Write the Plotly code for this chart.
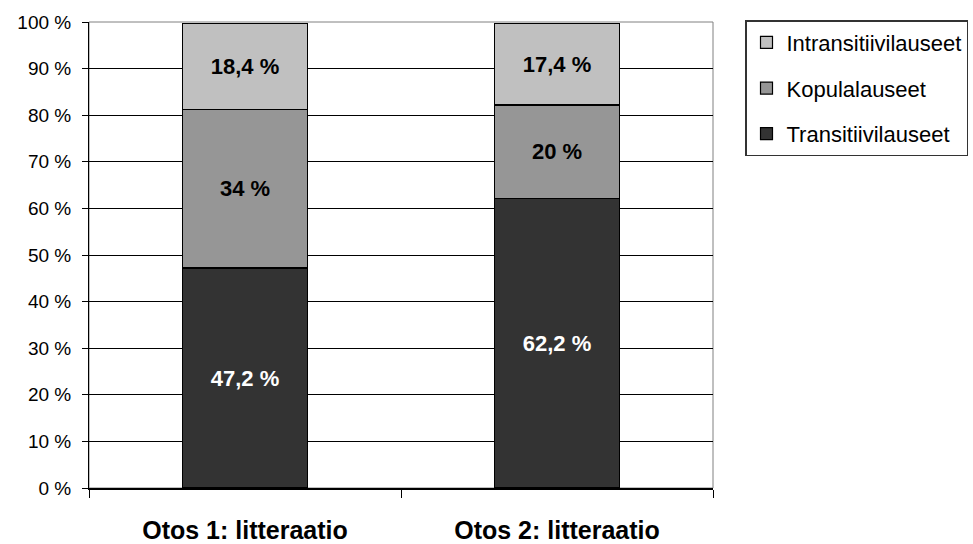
import plotly.graph_objects as go

categories = ["Otos 1: litteraatio", "Otos 2: litteraatio"]
series_names = ["Transitiivilauseet", "Kopulalauseet", "Intransitiivilauseet"]
transitiivi = [47.2, 62.2]
kopula = [34, 20]
intransitiivi = [18.4, 17.4]
colors = ["#333333", "#969696", "#C0C0C0"]
text_colors = ["white", "black", "black"]
legend_ranks = [3, 2, 1]

def fmt(v):
    return f"{v:g}".replace(".", ",") + " %"

fig = go.Figure()
for name, vals, col, tcol, rank in zip(series_names, [transitiivi, kopula, intransitiivi],
                                        colors, text_colors, legend_ranks):
    fig.add_trace(go.Bar(
        x=categories, y=vals, name=name, legendgroup=name, legendrank=rank,
        marker=dict(color=col, line=dict(color="black", width=1.2)),
        text=[fmt(v) for v in vals], textposition="inside", insidetextanchor="middle",
        textfont=dict(family="Liberation Sans, Arial", size=22, color=tcol, weight="bold"),
        textangle=0, hoverinfo="skip",
    ))

fig.update_layout(
    barmode="stack", bargap=0.6,
    width=973, height=544,
    margin=dict(l=89, r=260, t=22, b=56, autoexpand=False),
    paper_bgcolor="white", plot_bgcolor="white",
    font=dict(family="Liberation Sans, Arial", size=19, color="black"),
    showlegend=True,
    legend=dict(
        x=(745 - 89) / 624, y=1.004, xanchor="left", yanchor="top",
        traceorder="grouped", tracegroupgap=14,
        bordercolor="#333333", borderwidth=1.5, bgcolor="white",
        font=dict(size=22), itemwidth=30,
    ),
    uniformtext=dict(mode=False),
)
fig.update_yaxes(
    range=[0, 100], dtick=10, ticksuffix=" %", automargin=False,
    showgrid=True, gridcolor="black", gridwidth=1,
    showline=True, linecolor="black", linewidth=1,
    ticks="outside", ticklen=6, tickcolor="black", ticklabelstandoff=7,
    tickfont=dict(size=19), zeroline=False, mirror=False,
)
fig.update_xaxes(
    automargin=False,
    showline=True, linecolor="black", linewidth=1.5,
    ticks="outside", ticklen=8, tickson="boundaries", tickcolor="black",
    tickfont=dict(size=25, weight="bold"), ticklabelstandoff=19,
)
fig.add_shape(type="rect", xref="paper", yref="paper", x0=0, y0=0, x1=1, y1=1,
              line=dict(color="#808080", width=1), layer="below")

fig.write_html("out.html")
